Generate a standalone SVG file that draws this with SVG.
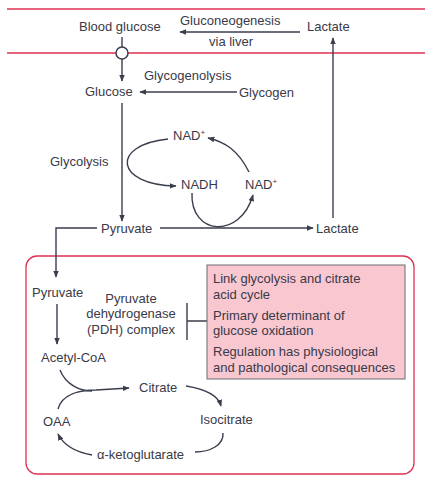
<svg xmlns="http://www.w3.org/2000/svg" width="431" height="481" viewBox="0 0 431 481">
<defs>
<style>
text{font-family:"Liberation Sans",Arial,sans-serif;font-size:13px;fill:#3a3a48}
.ln{fill:none;stroke:#3a3d4c;stroke-width:1.4}
.red{fill:none;stroke:#e03050;stroke-width:1.3}
</style>
<marker id="ah" viewBox="0 0 10 10" refX="9" refY="5" markerWidth="7" markerHeight="7" orient="auto-start-reverse" markerUnits="userSpaceOnUse">
<path d="M0,1 L10,5 L0,9 z" fill="#3a3d4c"/>
</marker>
</defs>
<rect width="431" height="481" fill="#fff"/>
<line class="red" x1="7" y1="9" x2="425" y2="9"/>
<line class="red" x1="7" y1="53" x2="425" y2="53"/>
<rect class="red" x="26" y="256" width="388" height="218" rx="11" stroke-width="1.6"/>
<g id="connectors">
<path class="ln" d="M300,32 H180" marker-end="url(#ah)"/>
<path class="ln" d="M333,218 V38" marker-end="url(#ah)"/>
<path class="ln" d="M122,37 V47"/>
<path class="ln" d="M122,59 V81" marker-end="url(#ah)"/>
<path class="ln" d="M237,92 H140" marker-end="url(#ah)"/>
<path class="ln" d="M122,103 V221" marker-end="url(#ah)"/>
<path class="ln" d="M168,139 C110,145 115,185 176,186" marker-end="url(#ah)"/>
<path class="ln" d="M249,172 C238,150 225,142 208,138" marker-end="url(#ah)"/>
<path class="ln" d="M192,193 C190,235 240,240 253,195" marker-end="url(#ah)"/>
<path class="ln" d="M160,228 H313" marker-end="url(#ah)"/>
<path class="ln" d="M97,228 H56 V277" marker-end="url(#ah)"/>
<path class="ln" d="M57,304 V344" marker-end="url(#ah)"/>
<path class="ln" d="M60,370 C66,385 80,391 92,391"/>
<path class="ln" d="M58,409 C62,394 80,390 96,390 L129,388" marker-end="url(#ah)"/>
<path class="ln" d="M186,386 C205,389 218,395 221,406" marker-end="url(#ah)"/>
<path class="ln" d="M223,433 C224,445 210,452 195,452"/>
<path class="ln" d="M92,455 C75,452 64,446 58,434" marker-end="url(#ah)"/>
<path class="ln" d="M187,303 V340 M187,321 H207"/>
</g>
<g id="blood-glucose"><text x="79" y="31">Blood glucose</text><circle cx="122" cy="53" r="6" fill="#fff" stroke="#3a3d4c" stroke-width="1.5"/></g>
<g id="gluconeogenesis"><text x="180" y="25">Gluconeogenesis</text><text x="209" y="46">via liver</text></g>
<g id="lactate-top"><text x="307" y="31">Lactate</text></g>
<g id="glycogenolysis"><text x="144" y="80">Glycogenolysis</text></g>
<g id="glucose"><text x="85" y="96">Glucose</text></g>
<g id="glycogen"><text x="239" y="97">Glycogen</text></g>
<g id="glycolysis"><text x="50" y="166">Glycolysis</text></g>
<g id="nad-top"><text x="173" y="140">NAD<tspan font-size="8" dy="-5">+</tspan></text></g>
<g id="nadh"><text x="181" y="189">NADH</text></g>
<g id="nad-right"><text x="245" y="189">NAD<tspan font-size="8" dy="-5">+</tspan></text></g>
<g id="pyruvate-top"><text x="101" y="233">Pyruvate</text></g>
<g id="lactate-mid"><text x="316" y="233">Lactate</text></g>
<g id="pyruvate-in"><text x="32" y="297">Pyruvate</text></g>
<g id="pdh"><text x="131" y="303" text-anchor="middle">Pyruvate</text><text x="131" y="318" text-anchor="middle">dehydrogenase</text><text x="131" y="334" text-anchor="middle">(PDH) complex</text></g>
<g id="info-box"><rect x="207" y="265" width="198" height="114" fill="#f9c7d0" stroke="#6a6a70" stroke-width="1"/>
<text x="213" y="283">Link glycolysis and citrate</text><text x="213" y="299">acid cycle</text>
<text x="213" y="320">Primary determinant of</text><text x="213" y="335">glucose oxidation</text>
<text x="213" y="356">Regulation has physiological</text><text x="213" y="372">and pathological consequences</text></g>
<g id="acetyl-coa"><text x="41" y="362">Acetyl-CoA</text></g>
<g id="citrate"><text x="139" y="392">Citrate</text></g>
<g id="isocitrate"><text x="200" y="424">Isocitrate</text></g>
<g id="oaa"><text x="43" y="426">OAA</text></g>
<g id="akg"><text x="97" y="459">α-ketoglutarate</text></g>
</svg>
